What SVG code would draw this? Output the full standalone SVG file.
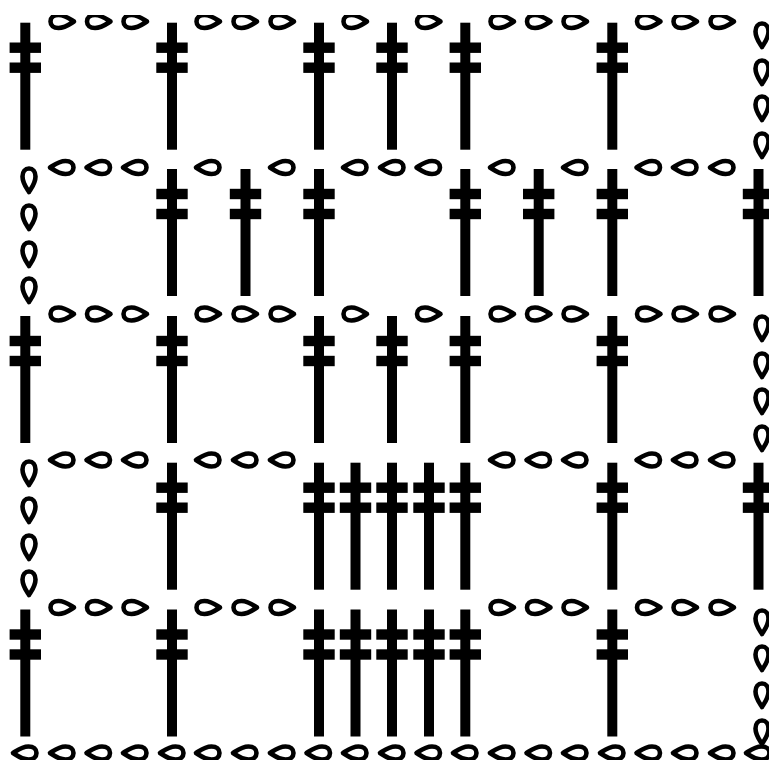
<svg xmlns="http://www.w3.org/2000/svg" xmlns:xlink="http://www.w3.org/1999/xlink" width="769" height="762" viewBox="0 0 769 762">
<style>
.stem,.bar{fill:#000}
.ch{fill:#fff;stroke:#000;stroke-width:4.6;stroke-linejoin:round}
</style>
<defs>
<filter id="soft" x="0" y="0" width="100%" height="100%"><feGaussianBlur stdDeviation="0.7"/></filter>
<g id="st">
<rect class="stem" x="-5" y="0" width="10" height="127"/>
<rect class="bar" x="-15.700" y="19.800" width="31.400" height="10.400"/>
<rect class="bar" x="-15.700" y="39.800" width="31.400" height="10.400"/>
</g>
<path id="r" class="ch" d="M12,0C7,-3.200 3,-6.500 -3.500,-6.500C-8.500,-6.500 -11.500,-3.800 -11.500,0C-11.500,3.800 -8.500,6.500 -3.500,6.500C3,6.500 7,3.200 12,0Z"/>
<use id="l" xlink:href="#r" href="#r" transform="rotate(180)"/>
<use id="d" xlink:href="#r" href="#r" transform="rotate(90)"/>
</defs>
<rect width="769" height="762" fill="#fff"/>
<g filter="url(#soft)">
<g id="row1">
<use href="#st" x="25.300" y="22.700"/><use href="#st" x="172" y="22.700"/><use href="#st" x="319" y="22.700"/><use href="#st" x="392" y="22.700"/><use href="#st" x="465.300" y="22.700"/><use href="#st" x="612.300" y="22.700"/>
<use href="#r" x="62" y="21.500"/><use href="#r" x="98.500" y="21.500"/><use href="#r" x="135" y="21.500"/>
<use href="#r" x="208" y="21.500"/><use href="#r" x="245" y="21.500"/><use href="#r" x="282" y="21.500"/>
<use href="#r" x="355" y="21.500"/><use href="#r" x="428.500" y="21.500"/>
<use href="#r" x="502" y="21.500"/><use href="#r" x="538.500" y="21.500"/><use href="#r" x="575" y="21.500"/>
<use href="#r" x="648.500" y="21.500"/><use href="#r" x="685" y="21.500"/><use href="#r" x="722" y="21.500"/>
<use href="#d" x="762" y="35"/><use href="#d" x="762" y="72"/><use href="#d" x="762" y="108"/><use href="#d" x="762" y="145"/>
</g>
<g id="row2">
<use href="#d" x="29" y="180"/><use href="#d" x="29" y="217"/><use href="#d" x="29" y="254"/><use href="#d" x="29" y="290"/>
<use href="#l" x="62" y="167.500"/><use href="#l" x="98.500" y="167.500"/><use href="#l" x="135" y="167.500"/>
<use href="#st" x="172" y="169"/><use href="#st" x="245.500" y="169"/><use href="#st" x="319" y="169"/><use href="#st" x="465.300" y="169"/><use href="#st" x="538.700" y="169"/><use href="#st" x="612.300" y="169"/><use href="#st" x="758.500" y="169"/>
<use href="#l" x="208" y="167.500"/><use href="#l" x="282" y="167.500"/>
<use href="#l" x="355" y="167.500"/><use href="#l" x="392" y="167.500"/><use href="#l" x="428.500" y="167.500"/>
<use href="#l" x="502" y="167.500"/><use href="#l" x="575" y="167.500"/>
<use href="#l" x="648.500" y="167.500"/><use href="#l" x="685" y="167.500"/><use href="#l" x="722" y="167.500"/>
</g>
<g id="row3">
<use href="#st" x="25.300" y="316"/><use href="#st" x="172" y="316"/><use href="#st" x="319" y="316"/><use href="#st" x="392" y="316"/><use href="#st" x="465.300" y="316"/><use href="#st" x="612.300" y="316"/>
<use href="#r" x="62" y="314"/><use href="#r" x="98.500" y="314"/><use href="#r" x="135" y="314"/>
<use href="#r" x="208" y="314"/><use href="#r" x="245" y="314"/><use href="#r" x="282" y="314"/>
<use href="#r" x="355" y="314"/><use href="#r" x="428.500" y="314"/>
<use href="#r" x="502" y="314"/><use href="#r" x="538.500" y="314"/><use href="#r" x="575" y="314"/>
<use href="#r" x="648.500" y="314"/><use href="#r" x="685" y="314"/><use href="#r" x="722" y="314"/>
<use href="#d" x="762" y="328"/><use href="#d" x="762" y="365"/><use href="#d" x="762" y="401"/><use href="#d" x="762" y="438"/>
</g>
<g id="row4">
<use href="#d" x="29" y="473"/><use href="#d" x="29" y="510"/><use href="#d" x="29" y="547"/><use href="#d" x="29" y="583"/>
<use href="#l" x="62" y="460"/><use href="#l" x="98.500" y="460"/><use href="#l" x="135" y="460"/>
<use href="#st" x="172" y="462.700"/><use href="#st" x="319" y="462.700"/><use href="#st" x="355.500" y="462.700"/><use href="#st" x="392" y="462.700"/><use href="#st" x="429" y="462.700"/><use href="#st" x="465.300" y="462.700"/><use href="#st" x="612.300" y="462.700"/><use href="#st" x="758.500" y="462.700"/>
<use href="#l" x="208" y="460"/><use href="#l" x="245" y="460"/><use href="#l" x="282" y="460"/>
<use href="#l" x="502" y="460"/><use href="#l" x="538.500" y="460"/><use href="#l" x="575" y="460"/>
<use href="#l" x="648.500" y="460"/><use href="#l" x="685" y="460"/><use href="#l" x="722" y="460"/>
</g>
<g id="row5">
<use href="#st" x="25.300" y="609.500"/><use href="#st" x="172" y="609.500"/><use href="#st" x="319" y="609.500"/><use href="#st" x="355.500" y="609.500"/><use href="#st" x="392" y="609.500"/><use href="#st" x="429" y="609.500"/><use href="#st" x="465.300" y="609.500"/><use href="#st" x="612.300" y="609.500"/>
<use href="#r" x="62" y="607.500"/><use href="#r" x="98.500" y="607.500"/><use href="#r" x="135" y="607.500"/>
<use href="#r" x="208" y="607.500"/><use href="#r" x="245" y="607.500"/><use href="#r" x="282" y="607.500"/>
<use href="#r" x="502" y="607.500"/><use href="#r" x="538.500" y="607.500"/><use href="#r" x="575" y="607.500"/>
<use href="#r" x="648.500" y="607.500"/><use href="#r" x="685" y="607.500"/><use href="#r" x="722" y="607.500"/>
<use href="#d" x="762" y="622"/><use href="#d" x="762" y="658"/><use href="#d" x="762" y="695"/><use href="#d" x="762" y="732"/>
</g>
<g id="foundation">
<use href="#l" x="25" y="753"/><use href="#l" x="62" y="753"/><use href="#l" x="98.500" y="753"/><use href="#l" x="135" y="753"/><use href="#l" x="172" y="753"/><use href="#l" x="208" y="753"/><use href="#l" x="245" y="753"/><use href="#l" x="282" y="753"/><use href="#l" x="318.500" y="753"/><use href="#l" x="355" y="753"/><use href="#l" x="392" y="753"/><use href="#l" x="428.500" y="753"/><use href="#l" x="465" y="753"/><use href="#l" x="502" y="753"/><use href="#l" x="538.500" y="753"/><use href="#l" x="575" y="753"/><use href="#l" x="612" y="753"/><use href="#l" x="648.500" y="753"/><use href="#l" x="685" y="753"/><use href="#l" x="722" y="753"/><use href="#l" x="758" y="753"/>
</g>
</g>
</svg>
